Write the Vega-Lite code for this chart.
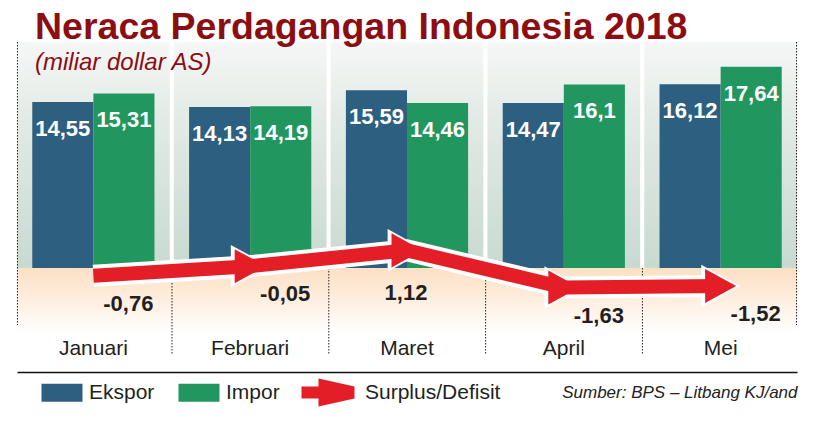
{
  "$schema": "https://vega.github.io/schema/vega-lite/v6.json",
  "width": 780,
  "height": 330,
  "autosize": {"type": "none"},
  "padding": {"left": 17, "top": 42, "right": 19, "bottom": 55},
  "background": "#ffffff",
  "view": {
    "stroke": null,
    "fill": {
      "gradient": "linear", "x1": 0, "y1": 0, "x2": 0, "y2": 1,
      "stops": [
        {"offset": 0, "color": "#ffffff"},
        {"offset": 0.684, "color": "#ffffff"},
        {"offset": 0.686, "color": "#fde0c5"},
        {"offset": 0.78, "color": "#feeedf"},
        {"offset": 0.88, "color": "#ffffff"},
        {"offset": 1, "color": "#ffffff"}
      ]
    }
  },
  "title": {
    "text": "Neraca Perdagangan Indonesia 2018",
    "subtitle": "(miliar dollar AS)",
    "anchor": "start",
    "frame": "group",
    "dx": 18,
    "offset": -33,
    "color": "#8c0d12",
    "subtitleColor": "#8c0d12",
    "font": "Liberation Sans",
    "fontSize": 37.5,
    "fontWeight": "bold",
    "subtitleFont": "Liberation Sans",
    "subtitleFontSize": 24,
    "subtitleFontStyle": "italic",
    "subtitlePadding": 4
  },
  "datasets": {
    "months": [
      {"month": "Januari"}, {"month": "Februari"}, {"month": "Maret"}, {"month": "April"}, {"month": "Mei"}
    ],
    "bars": [
      {"month": "Januari", "series": "Ekspor", "value": 14.55, "label": "14,55"},
      {"month": "Januari", "series": "Impor", "value": 15.31, "label": "15,31"},
      {"month": "Februari", "series": "Ekspor", "value": 14.13, "label": "14,13"},
      {"month": "Februari", "series": "Impor", "value": 14.19, "label": "14,19"},
      {"month": "Maret", "series": "Ekspor", "value": 15.59, "label": "15,59"},
      {"month": "Maret", "series": "Impor", "value": 14.46, "label": "14,46"},
      {"month": "April", "series": "Ekspor", "value": 14.47, "label": "14,47"},
      {"month": "April", "series": "Impor", "value": 16.1, "label": "16,1"},
      {"month": "Mei", "series": "Ekspor", "value": 16.12, "label": "16,12"},
      {"month": "Mei", "series": "Impor", "value": 17.64, "label": "17,64"}
    ],
    "balance": [
      {"month": "Januari", "series": "Surplus/Defisit", "value": -0.76, "label": "-0,76"},
      {"month": "Februari", "series": "Surplus/Defisit", "value": -0.05, "label": "-0,05"},
      {"month": "Maret", "series": "Surplus/Defisit", "value": 1.12, "label": "1,12"},
      {"month": "April", "series": "Surplus/Defisit", "value": -1.63, "label": "-1,63"},
      {"month": "Mei", "series": "Surplus/Defisit", "value": -1.52, "label": "-1,52"}
    ]
  },
  "layer": [
    {
      "layer": [
        {
          "data": {"name": "months"},
          "mark": {
            "type": "bar",
            "color": {
              "gradient": "linear", "x1": 0, "y1": 0, "x2": 0, "y2": 1,
              "stops": [
                {"offset": 0, "color": "#f5f7f6"},
                {"offset": 0.35, "color": "#e2eae5"},
                {"offset": 1, "color": "#c8dad0"}
              ]
            }
          },
          "encoding": {
            "x": {"field": "month", "type": "nominal", "sort": ["Januari", "Februari", "Maret", "April", "Mei"], "title": "Sumber: BPS – Litbang KJ/and"},
            "y": {"datum": 19.82, "type": "quantitative", "scale": {"domain": [-9.12, 19.82], "nice": false}, "axis": null},
            "y2": {"datum": 0}
          }
        },
        {
          "data": {"name": "months"},
          "transform": [{"filter": "datum.month !== 'Januari'"}],
          "mark": {"type": "rule", "color": "#222222", "strokeWidth": 1, "strokeDash": [1.5, 1.5]},
          "encoding": {
            "x": {"field": "month", "type": "nominal", "sort": ["Januari", "Februari", "Maret", "April", "Mei"], "bandPosition": -0.012, "title": "Sumber: BPS – Litbang KJ/and"},
            "y": {"datum": 0, "type": "quantitative", "axis": null},
            "y2": {"datum": -7.63}
          }
        },
        {
          "data": {"name": "months"},
          "transform": [{"filter": "datum.month === 'Januari'"}],
          "mark": {"type": "rule", "color": "#222222", "strokeWidth": 1, "strokeDash": [1.5, 1.5]},
          "encoding": {
            "x": {"field": "month", "type": "nominal", "sort": ["Januari", "Februari", "Maret", "April", "Mei"], "bandPosition": 0.003, "title": "Sumber: BPS – Litbang KJ/and"},
            "y": {"datum": 19.82, "type": "quantitative", "axis": null},
            "y2": {"datum": -5}
          }
        },
        {
          "data": {"name": "months"},
          "transform": [{"filter": "datum.month === 'Mei'"}],
          "mark": {"type": "rule", "color": "#222222", "strokeWidth": 1, "strokeDash": [1.5, 1.5]},
          "encoding": {
            "x": {"field": "month", "type": "nominal", "sort": ["Januari", "Februari", "Maret", "April", "Mei"], "bandPosition": 0.997, "title": "Sumber: BPS – Litbang KJ/and"},
            "y": {"datum": 19.82, "type": "quantitative", "axis": null},
            "y2": {"datum": -5}
          }
        },
        {
          "data": {"name": "bars"},
          "mark": {"type": "bar", "opacity": 1},
          "encoding": {
            "x": {"field": "month", "type": "nominal", "sort": ["Januari", "Februari", "Maret", "April", "Mei"], "title": "Sumber: BPS – Litbang KJ/and"},
            "xOffset": {"field": "series", "type": "nominal", "sort": ["Ekspor", "Impor"]},
            "y": {"field": "value", "type": "quantitative", "axis": null},
            "color": {
              "field": "series", "type": "nominal",
              "scale": {"domain": ["Ekspor", "Impor"], "range": ["#2d5f80", "#22965f"]},
              "legend": {
                "orient": "none", "legendX": 24, "legendY": 340, "direction": "horizontal",
                "title": null, "padding": 0,
                "symbolType": "M-1,-0.9H3.1V0.9H-1Z", "symbolSize": 400,
                "symbolStrokeWidth": 0, "symbolOpacity": 1,
                "labelOffset": 27, "columnPadding": 23,
                "labelFont": "Liberation Sans", "labelFontSize": 21, "labelColor": "#231f20"
              }
            }
          }
        },
        {
          "mark": {"type": "rule", "color": "#1a1a1a", "strokeWidth": 2},
          "encoding": {"y": {"datum": 0, "type": "quantitative", "axis": null}}
        },
        {
          "data": {"name": "bars"},
          "mark": {"type": "text", "color": "#ffffff", "font": "Liberation Sans", "fontSize": 22, "fontWeight": "bold", "baseline": "middle", "align": "center", "dy": 27},
          "encoding": {
            "x": {"field": "month", "type": "nominal", "sort": ["Januari", "Februari", "Maret", "April", "Mei"], "title": "Sumber: BPS – Litbang KJ/and"},
            "xOffset": {"field": "series", "type": "nominal", "sort": ["Ekspor", "Impor"]},
            "y": {"field": "value", "type": "quantitative", "axis": null},
            "text": {"field": "label", "type": "nominal"}
          }
        }
      ]
    },
    {
      "data": {"name": "balance"},
      "layer": [
        {
          "mark": {"type": "line", "color": "#ffffff", "strokeWidth": 22, "strokeCap": "butt", "strokeJoin": "miter"},
          "encoding": {
            "x": {"field": "month", "type": "nominal", "sort": ["Januari", "Februari", "Maret", "April", "Mei"], "bandPosition": 0.5, "title": "Sumber: BPS – Litbang KJ/and"},
            "y": {"field": "value", "type": "quantitative", "scale": {"domain": [-7.89, 16.56], "nice": false, "zero": false}, "axis": null}
          }
        },
        {
          "transform": [{"filter": "datum.month !== 'Januari'"}],
          "mark": {"type": "point", "shape": "M-1,-1.1L1,0L-1,1.1Z", "size": 1500, "filled": true, "color": "#ffffff", "opacity": 1, "strokeWidth": 0},
          "encoding": {
            "x": {"field": "month", "type": "nominal", "sort": ["Januari", "Februari", "Maret", "April", "Mei"], "bandPosition": 0.5, "title": "Sumber: BPS – Litbang KJ/and"},
            "y": {"field": "value", "type": "quantitative", "axis": null}
          }
        },
        {
          "mark": {"type": "line", "color": "#e41e26", "strokeWidth": 14, "strokeCap": "butt", "strokeJoin": "miter"},
          "encoding": {
            "x": {"field": "month", "type": "nominal", "sort": ["Januari", "Februari", "Maret", "April", "Mei"], "bandPosition": 0.5, "title": "Sumber: BPS – Litbang KJ/and"},
            "y": {"field": "value", "type": "quantitative", "axis": null}
          }
        },
        {
          "transform": [{"filter": "datum.month !== 'Januari'"}],
          "mark": {"type": "point", "shape": "M-1,-1.1L1,0L-1,1.1Z", "size": 961, "filled": true, "opacity": 1, "strokeWidth": 0},
          "encoding": {
            "x": {"field": "month", "type": "nominal", "sort": ["Januari", "Februari", "Maret", "April", "Mei"], "bandPosition": 0.5, "title": "Sumber: BPS – Litbang KJ/and"},
            "y": {"field": "value", "type": "quantitative", "axis": null},
            "fill": {
              "field": "series", "type": "nominal",
              "scale": {"domain": ["Surplus/Defisit"], "range": ["#e41e26"]},
              "legend": {
                "orient": "none", "legendX": 284, "legendY": 340, "direction": "horizontal",
                "title": null, "padding": 0, "symbolSize": 400,
                "symbolType": "M-1,-0.6H0.7V-1.4L4.3,-0.6V0.6L0.7,1.4V0.6H-1Z",
                "symbolStrokeWidth": 0, "symbolOpacity": 1,
                "labelOffset": 43,
                "labelFont": "Liberation Sans", "labelFontSize": 21, "labelColor": "#231f20"
              }
            }
          }
        },
        {
          "transform": [{"filter": "datum.value < 0"}],
          "mark": {"type": "text", "color": "#231f20", "font": "Liberation Sans", "fontSize": 22, "fontWeight": "bold", "baseline": "middle", "align": "center", "dx": 35, "dy": 28},
          "encoding": {
            "x": {"field": "month", "type": "nominal", "sort": ["Januari", "Februari", "Maret", "April", "Mei"], "bandPosition": 0.5, "title": "Sumber: BPS – Litbang KJ/and"},
            "y": {"field": "value", "type": "quantitative", "axis": null},
            "text": {"field": "label", "type": "nominal"}
          }
        },
        {
          "transform": [{"filter": "datum.value >= 0"}],
          "mark": {"type": "text", "color": "#231f20", "font": "Liberation Sans", "fontSize": 22, "fontWeight": "bold", "baseline": "middle", "align": "center", "dx": -1, "dy": 43},
          "encoding": {
            "x": {"field": "month", "type": "nominal", "sort": ["Januari", "Februari", "Maret", "April", "Mei"], "bandPosition": 0.5, "title": "Sumber: BPS – Litbang KJ/and"},
            "y": {"field": "value", "type": "quantitative", "axis": null},
            "text": {"field": "label", "type": "nominal"}
          }
        }
      ]
    }
  ],
  "resolve": {"scale": {"y": "independent"}},
  "config": {
    "font": "Liberation Sans",
    "scale": {"bandPaddingInner": 0.026, "bandPaddingOuter": 0, "offsetBandPaddingInner": 0, "offsetBandPaddingOuter": 0.25},
    "legend": {"padding": 0},
    "axisX": {
      "domain": true, "domainColor": "#111111", "domainWidth": 1.5,
      "ticks": false, "tickSize": 0, "grid": false,
      "labelAngle": 0, "labelPadding": -24, "labelBaseline": "middle",
      "labelFont": "Liberation Sans", "labelFontSize": 21, "labelColor": "#222222",
      "titleX": 780, "titleY": 20, "titleAlign": "right", "titleBaseline": "middle",
      "titleFont": "Liberation Sans", "titleFontSize": 17, "titleFontStyle": "italic",
      "titleFontWeight": "normal", "titleColor": "#222222"
    }
  }
}
